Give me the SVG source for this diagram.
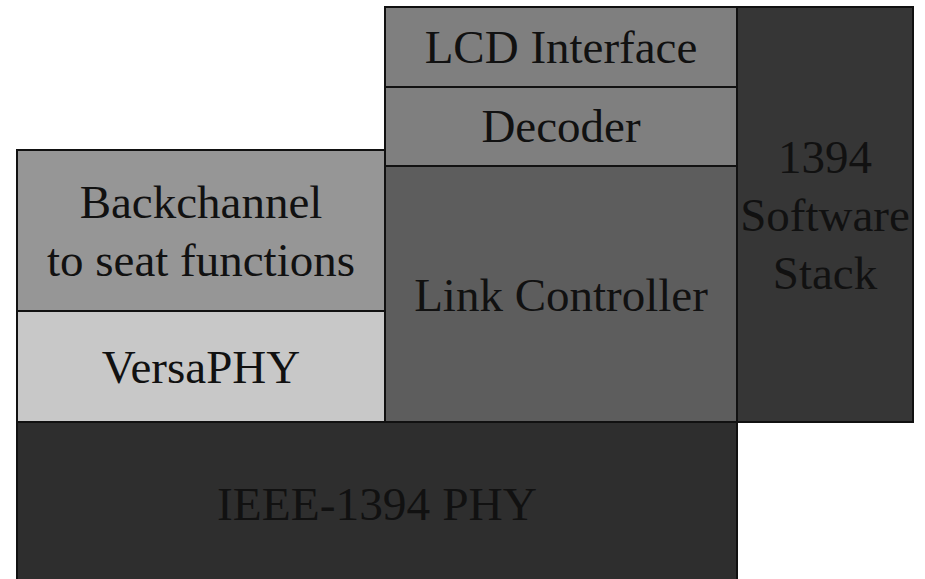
<svg xmlns="http://www.w3.org/2000/svg" width="925" height="579" viewBox="0 0 925 579">
<style>
.b{stroke:#111;stroke-width:2}
text{font-family:"Liberation Serif","Times New Roman",serif;font-size:47px;fill:#111;text-anchor:middle}
</style>
<rect x="0" y="0" width="925" height="579" fill="#fff"/>
<g id="phy"><rect class="b" x="17" y="422" width="720" height="170" fill="#2e2e2e"/><text x="377" y="520" textLength="320" lengthAdjust="spacingAndGlyphs">IEEE-1394 PHY</text></g>
<g id="backchannel"><rect class="b" x="17" y="150" width="368" height="161" fill="#969696"/><text x="201" y="218">Backchannel</text><text x="201" y="276">to seat functions</text></g>
<g id="versaphy"><rect class="b" x="17" y="311" width="368" height="111" fill="#c8c8c8"/><text x="201" y="383">VersaPHY</text></g>
<g id="lcd"><rect class="b" x="385" y="7" width="352" height="80" fill="#7f7f7f"/><text x="561" y="63">LCD Interface</text></g>
<g id="decoder"><rect class="b" x="385" y="87" width="352" height="79" fill="#7f7f7f"/><text x="561" y="142">Decoder</text></g>
<g id="link"><rect class="b" x="385" y="166" width="352" height="256" fill="#5d5d5d"/><text x="561" y="311">Link Controller</text></g>
<g id="stack"><rect class="b" x="737" y="7" width="176" height="415" fill="#363636"/><text x="825" y="173">1394</text><text x="825" y="231">Software</text><text x="825" y="289">Stack</text></g>
<g id="connectors"></g>
</svg>
